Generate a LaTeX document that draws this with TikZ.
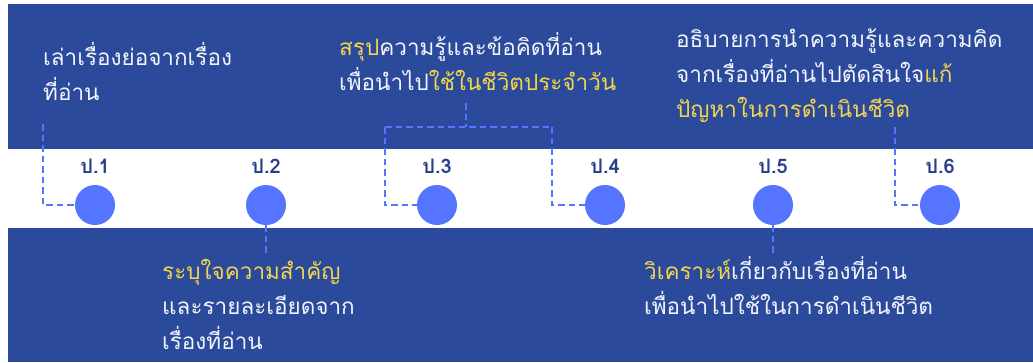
\documentclass[tikz,border=0pt]{standalone}
\usepackage{fontspec}
\newfontfamily\thai[Script=Thai]{Loma}
\definecolor{band}{HTML}{2C4A9C}
\definecolor{dotc}{HTML}{5574FF}
\definecolor{hl}{HTML}{F2D54E}
\definecolor{lblc}{HTML}{2A3F8C}
\definecolor{txt}{HTML}{F2F4FA}
\begin{document}
\begin{tikzpicture}[x=1pt,y=-1pt,
  dotn/.style={circle,fill=dotc,minimum size=40pt,inner sep=0pt},
  lbl/.style={font=\thai\bfseries\fontsize{20}{22}\selectfont,text=lblc,inner sep=0pt,anchor=base},
  desc/.style={font=\thai\fontsize{22.5}{35}\selectfont,text=txt,align=left,inner sep=0pt,anchor=base west},
  link/.style={draw=dotc,line width=2.5pt,dash pattern=on 6.5pt off 4pt}]
\useasboundingbox (0,0) rectangle (1033,362);
\fill[white] (0,0) rectangle (1033,362);
\fill[band] (8,4) rectangle (1033,149);
\fill[band] (8,228) rectangle (1033,362);

\foreach \i/\x in {1/95,2/266,3/437,4/605,5/773,6/940}{
  \node[dotn] (c\i) at (\x,205) {};
  \node[lbl] (p\i) at (\x,173) {ป.\i};
}

% base anchor = baseline of last line
\node[desc] (t1) at (43,100) {เล่าเรื่องย่อจากเรื่อง\\ที่อ่าน};
\node[desc] (t2) at (339,90) {\textcolor{hl}{สรุป}ความรู้และข้อคิดที่อ่าน\\เพื่อนำไป\textcolor{hl}{ใช้ในชีวิตประจำวัน}};
\node[desc] (t3) at (676,117) {อธิบายการนำความรู้และความคิด\\จากเรื่องที่อ่านไปตัดสินใจ\textcolor{hl}{แก้}\\\textcolor{hl}{ปัญหาในการดำเนินชีวิต}};
\node[desc] (t4) at (162,349) {\textcolor{hl}{ระบุใจความสำคัญ}\\และรายละเอียดจาก\\เรื่องที่อ่าน};
\node[desc] (t5) at (644,314) {\textcolor{hl}{วิเคราะห์}เกี่ยวกับเรื่องที่อ่าน\\เพื่อนำไปใช้ในการดำเนินชีวิต};

\coordinate (a1) at (43,124);
\coordinate (b2) at (266,253);
\coordinate (m34) at (466,103);
\coordinate (j34) at (466,127);
\coordinate (l3) at (385,127);
\coordinate (r4) at (552,127);
\coordinate (b5) at (773,253);
\coordinate (a6) at (895,127);

\draw[link] (a1) |- (c1);
\draw[link] (c2) -- (b2);
\draw[link] (m34) -- (j34);
\draw[link] (l3) -- (r4);
\draw[link] (l3) |- (c3);
\draw[link] (r4) |- (c4);
\draw[link] (c5) -- (b5);
\draw[link] (a6) |- (c6);
\end{tikzpicture}
\end{document}
